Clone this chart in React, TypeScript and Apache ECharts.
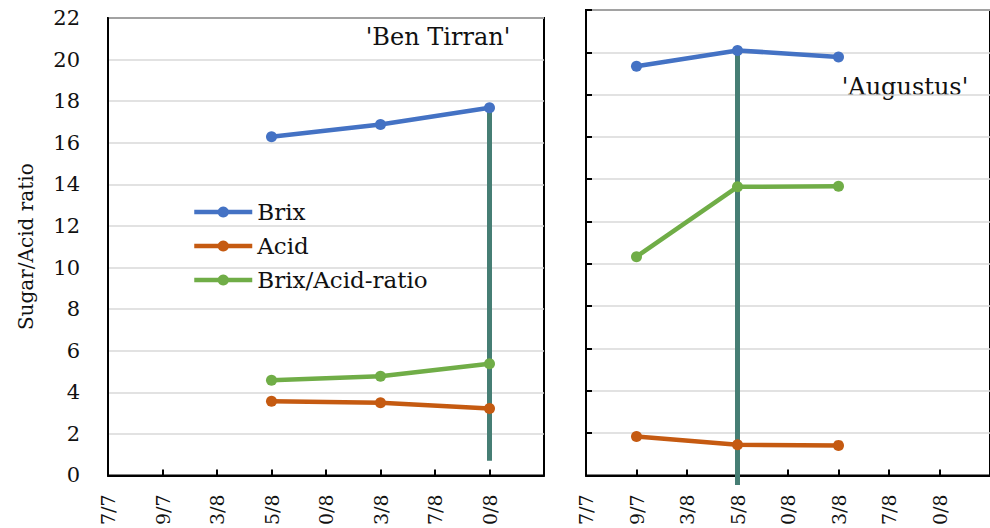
import React, { useEffect, useRef } from "react";
import * as echarts from "echarts";

const xLabels = ["7/7", "9/7", "3/8", "5/8", "0/8", "3/8", "7/8", "0/8"];

// 'Ben Tirran' (left panel)
const benX = [3, 5, 7];
const benBrix = [16.29, 16.88, 17.68];
const benAcid = [3.57, 3.49, 3.22];
const benRatio = [4.58, 4.77, 5.37];

// 'Augustus' (right panel)
const augX = [1, 3, 5];
const augBrix = [19.34, 20.09, 19.78];
const augAcid = [1.84, 1.45, 1.42];
const augRatio = [10.34, 13.64, 13.67];

// harvest marker lines
const harvestX = [7, 3];
const harvestTop = [17.68, 20.09];
const harvestBottom = [0.7, -0.45];

const titles = ["'Ben Tirran'", "'Augustus'"];
const seriesNames = ["Brix", "Acid", "Brix/Acid-ratio"];

const COLORS = { Brix: "#4472c4", Acid: "#c55a11", "Brix/Acid-ratio": "#70ad47" };
const TEAL = "#467e74";
const FONT = "DejaVu Serif";

export default function App() {
  const ref = useRef<HTMLDivElement>(null);

  useEffect(() => {
    if (!ref.current) return;
    const chart = echarts.init(ref.current, undefined, { renderer: "svg" });

    const zip = (xs: number[], ys: number[]) => xs.map((x, i) => [x, ys[i]]);

    const lineSeries = (name: string, idx: number, data: number[][]) => ({
      name,
      type: "line",
      xAxisIndex: idx,
      yAxisIndex: idx,
      data,
      symbol: "circle",
      symbolSize: 11,
      lineStyle: { width: 4.5, color: (COLORS as any)[name] },
      itemStyle: { color: (COLORS as any)[name] },
      z: 3,
    });

    const harvest = (idx: number) => ({
      name: "harvest",
      type: "line",
      xAxisIndex: idx,
      yAxisIndex: idx,
      clip: false,
      symbol: "none",
      data: [
        [harvestX[idx], harvestTop[idx]],
        [harvestX[idx], harvestBottom[idx]],
      ],
      lineStyle: { width: 5, color: TEAL },
      z: 3,
    });

    const xAxis = (idx: number) => ({
      type: "value",
      gridIndex: idx,
      min: 0,
      max: 8,
      interval: 1,
      axisLine: { show: true, lineStyle: { color: "#000", width: 2 } },
      axisTick: { show: true, inside: true, length: 6, lineStyle: { color: "#000", width: 2 } },
      splitLine: { show: false },
      axisLabel: {
        rotate: 90,
        margin: 19,
        fontFamily: FONT,
        fontSize: 19,
        color: "#111",
        formatter: (v: number) => xLabels[v] ?? "",
      },
    });

    const yAxis = (idx: number) => ({
      type: "value",
      gridIndex: idx,
      min: 0,
      max: 22,
      interval: 2,
      name: idx === 0 ? "Sugar/Acid ratio" : "",
      nameLocation: "middle",
      nameGap: 72,
      nameTextStyle: { fontFamily: FONT, fontSize: 20, color: "#111" },
      axisLine: { show: true, lineStyle: { color: "#000", width: 2 } },
      axisTick: { show: idx === 1, inside: true, length: 6, lineStyle: { color: "#000", width: 2 } },
      splitLine: { show: true, lineStyle: { color: "#d9d9d9", width: 1.5 } },
      axisLabel: {
        show: idx === 0,
        margin: 28,
        fontFamily: FONT,
        fontSize: 21,
        color: "#111",
      },
    });

    chart.setOption({
      animation: false,
      backgroundColor: "#fff",
      grid: [
        { left: 108, top: 18, width: 436, height: 460, show: true, borderColor: "#000", borderWidth: 2 },
        { left: 586, top: 10, width: 410, height: 468, show: true, borderColor: "#000", borderWidth: 2 },
      ],
      xAxis: [xAxis(0), xAxis(1)],
      yAxis: [yAxis(0), yAxis(1)],
      legend: {
        data: seriesNames,
        orient: "vertical",
        left: 187,
        top: 195,
        itemWidth: 58,
        itemHeight: 14,
        itemGap: 10,
        lineStyle: { width: 4.5 },
        textStyle: { fontFamily: FONT, fontSize: 23, color: "#111", lineHeight: 24 },
      },
      graphic: [
        {
          type: "text",
          x: 438,
          y: 37,
          style: { text: titles[0], fontFamily: FONT, fontSize: 24, fill: "#111", align: "center", verticalAlign: "middle" },
        },
        {
          type: "text",
          x: 905,
          y: 87,
          style: { text: titles[1], fontFamily: FONT, fontSize: 24, fill: "#111", align: "center", verticalAlign: "middle" },
        },
      ],
      series: [
        lineSeries("Acid", 0, zip(benX, benAcid)),
        lineSeries("Brix/Acid-ratio", 0, zip(benX, benRatio)),
        harvest(0),
        lineSeries("Brix", 0, zip(benX, benBrix)),
        lineSeries("Acid", 1, zip(augX, augAcid)),
        lineSeries("Brix/Acid-ratio", 1, zip(augX, augRatio)),
        harvest(1),
        lineSeries("Brix", 1, zip(augX, augBrix)),
      ],
    });

    return () => chart.dispose();
  }, []);

  return (
    <div
      ref={ref}
      style={{ position: "fixed", left: 0, top: 0, width: 990, height: 528, background: "#fff" }}
    />
  );
}
